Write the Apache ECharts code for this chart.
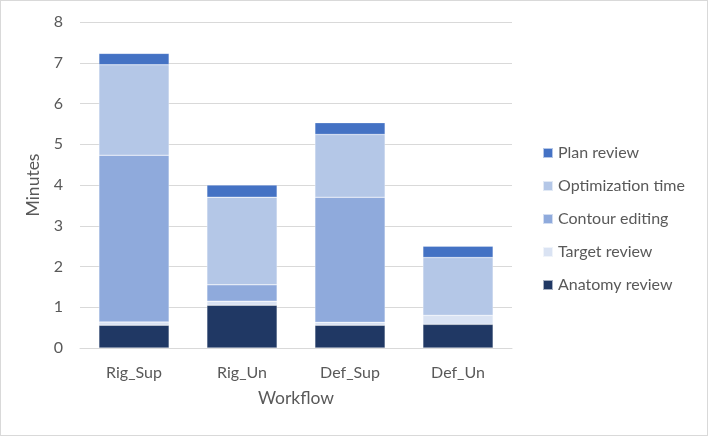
<!DOCTYPE html>
<html><head><meta charset="utf-8">
<script src="https://cdn.jsdelivr.net/npm/echarts@6/dist/echarts.min.js"></script>
<style>html,body{margin:0;padding:0;background:#fff}#c{width:706px;height:434px;border:1px solid #d9d9d9}</style>
</head><body><div id="c"></div>
<script>
const categories = ["Rig_Sup", "Rig_Un", "Def_Sup", "Def_Un"];
const anatomyReview = [0.56, 1.05, 0.56, 0.58];
const targetReview = [0.08, 0.10, 0.07, 0.22];
const contourEditing = [4.09, 0.40, 3.07, 0];
const optimizationTime = [2.22, 2.15, 1.54, 1.42];
const planReview = [0.28, 0.30, 0.29, 0.28];
const yTicks = [0, 1, 2, 3, 4, 5, 6, 7, 8];

const font = "Lato, 'Open Sans', sans-serif";
const chart = echarts.init(document.getElementById('c'));
const mk = (name, data, color) => ({
  name, type: 'bar', stack: 'a', data, barCategoryGap: '35%',
  itemStyle: { color, borderColor: 'rgba(255,255,255,0.6)', borderWidth: 0.5 }
});
chart.setOption({
  animation: false,
  textStyle: { fontFamily: font },
  grid: { left: 79, right: 195, top: 21, bottom: 87 },
  xAxis: {
    type: 'category', data: categories,
    name: 'Workflow', nameLocation: 'middle', nameGap: 41,
    nameTextStyle: { fontSize: 17.5, color: '#595959', fontFamily: font },
    axisLine: { lineStyle: { color: '#d9d9d9' } },
    axisTick: { show: false },
    axisLabel: { fontSize: 16, color: '#595959', margin: 17, fontFamily: font }
  },
  yAxis: {
    type: 'value', min: yTicks[0], max: yTicks[yTicks.length - 1], interval: 1,
    name: 'Minutes', nameLocation: 'middle', nameGap: 36,
    nameTextStyle: { fontSize: 17.5, color: '#595959', fontFamily: font },
    axisLine: { show: false }, axisTick: { show: false },
    axisLabel: { fontSize: 16, color: '#595959', margin: 17, fontFamily: font },
    splitLine: { lineStyle: { color: '#d9d9d9' } }
  },
  legend: {
    orient: 'vertical', left: 536, top: 139, itemGap: 17,
    itemWidth: 10, itemHeight: 10, icon: 'rect',
    textStyle: { fontSize: 16, color: '#595959', fontFamily: font },
    data: ['Plan review', 'Optimization time', 'Contour editing', 'Target review', 'Anatomy review']
  },
  series: [
    mk('Anatomy review', anatomyReview, '#203864'),
    mk('Target review', targetReview, '#DAE3F3'),
    mk('Contour editing', contourEditing, '#8FAADC'),
    mk('Optimization time', optimizationTime, '#B4C7E7'),
    mk('Plan review', planReview, '#4472C4')
  ]
});
</script></body></html>
